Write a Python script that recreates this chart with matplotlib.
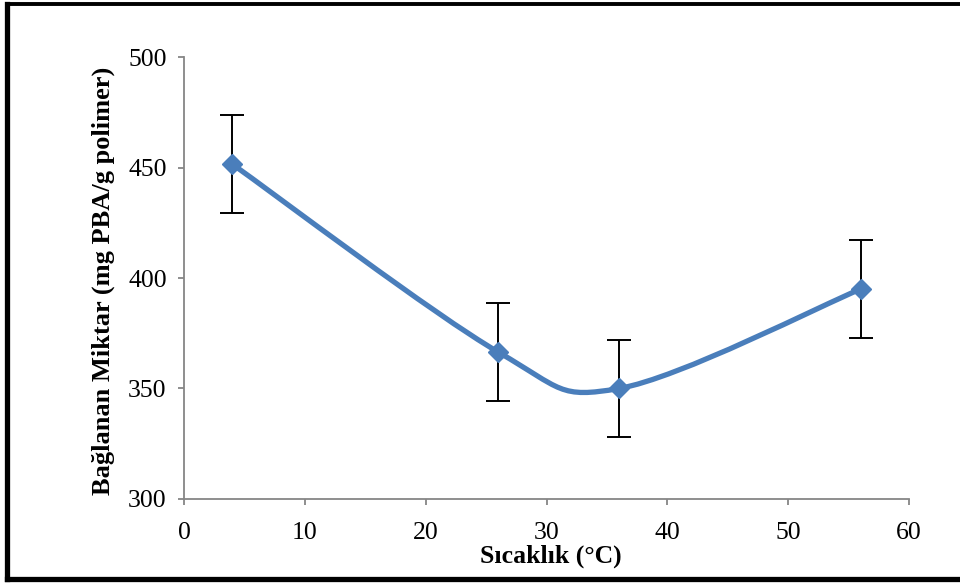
import matplotlib
matplotlib.use("Agg")
import matplotlib.pyplot as plt
from matplotlib.path import Path
from matplotlib.patches import PathPatch
from matplotlib.lines import Line2D
import numpy as np

plt.rcParams['font.family'] = ['Liberation Serif', 'DejaVu Serif']

# Data
temperature = [4, 26, 36, 56]
bound_amount = [451.5, 366.5, 350.0, 395.0]
error = [22.2, 22.3, 22.0, 22.3]
x_ticks = [0, 10, 20, 30, 40, 50, 60]
y_ticks = [300, 350, 400, 450, 500]
x_label = "Sıcaklık (°C)"
y_label = "Bağlanan Miktar (mg PBA/g polimer)"

line_color = "#4A7EBB"
axis_gray = "#868686"

fig = plt.figure(figsize=(9.6, 5.83), dpi=100)
ax = fig.add_axes([0.1917, 0.1441, 0.9469 - 0.1917, 0.9022 - 0.1441])
ax.set_xlim(0, 60)
ax.set_ylim(300, 500)

# Smoothed (Excel-like) curve through points using cubic Bezier segments
xs = np.array(temperature, dtype=float)
ys = np.array(bound_amount, dtype=float)
pts = np.column_stack([xs, ys])
n = len(pts)
verts = [tuple(pts[0])]
codes = [Path.MOVETO]
for i in range(n - 1):
    p_prev = pts[i - 1] if i > 0 else pts[i]
    p0 = pts[i]
    p1 = pts[i + 1]
    p_next = pts[i + 2] if i + 2 < n else pts[i + 1]
    c1 = p0 + (p1 - p_prev) / 6.0
    c2 = p1 - (p_next - p0) / 6.0
    verts += [tuple(c1), tuple(c2), tuple(p1)]
    codes += [Path.CURVE4, Path.CURVE4, Path.CURVE4]
path = Path(verts, codes)
ax.add_patch(PathPatch(path, facecolor='none', edgecolor=line_color, lw=3.8,
                       capstyle='round', joinstyle='round', zorder=2))

ax.errorbar(temperature, bound_amount, yerr=error, fmt='none', ecolor='black',
            elinewidth=1.4, capsize=8.5, capthick=1.4, zorder=3)
ax.plot(temperature, bound_amount, linestyle='none', marker='D', markersize=10.5,
        color=line_color, markeredgecolor=line_color, markeredgewidth=1, zorder=4)

for side in ['top', 'right']:
    ax.spines[side].set_visible(False)
for side in ['left', 'bottom']:
    ax.spines[side].set_color(axis_gray)
    ax.spines[side].set_linewidth(1.3)

ax.set_xticks(x_ticks)
ax.set_yticks(y_ticks)
ax.tick_params(axis='both', direction='out', length=4.5, width=1.3, color=axis_gray,
               labelsize=18.5, labelcolor='black')
ax.tick_params(axis='y', pad=8)
ax.tick_params(axis='x', pad=12)

ax.set_xlabel(x_label, fontsize=18.5, fontweight='bold')
ax.xaxis.set_label_coords(0.5 + 4 / 725, -46 / 442, transform=ax.transAxes)
ax.set_ylabel(y_label, fontsize=19, fontweight='bold')
ax.yaxis.set_label_coords(-69 / 725, 0.5 - 3 / 442, transform=ax.transAxes)

# Figure border (Excel chart frame)
bw = 3.8
fig.add_artist(Line2D([6.5 / 960, 6.5 / 960], [1 - 3.5 / 583, 1 - 579 / 583],
                      transform=fig.transFigure, color='black', lw=bw, solid_capstyle='projecting'))
fig.add_artist(Line2D([6.5 / 960, 1.01], [1 - 3.5 / 583, 1 - 3.5 / 583],
                      transform=fig.transFigure, color='black', lw=2.8, solid_capstyle='projecting'))
fig.add_artist(Line2D([6.5 / 960, 1.01], [1 - 579 / 583, 1 - 579 / 583],
                      transform=fig.transFigure, color='black', lw=bw, solid_capstyle='projecting'))

fig.savefig("out.png", dpi=100)
